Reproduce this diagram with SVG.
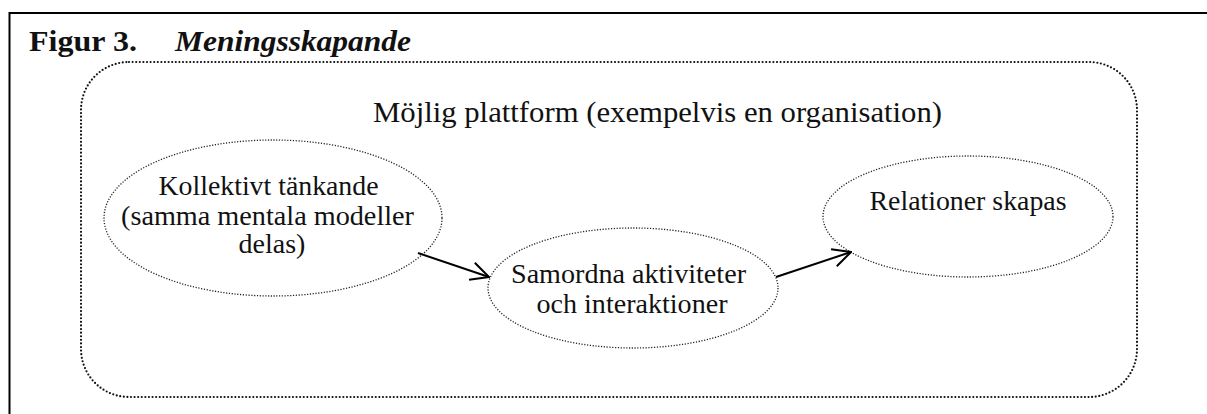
<svg xmlns="http://www.w3.org/2000/svg" width="1207" height="414" viewBox="0 0 1207 414">
<defs>
<style>
.t{font-family:'Liberation Serif','Times New Roman',serif;fill:#111;}
.node{fill:none;stroke:#222;stroke-width:1.3;stroke-dasharray:1.2 1.6;}
.plat{fill:none;stroke:#111;stroke-width:2.2;stroke-linecap:round;stroke-dasharray:0 3.6;}
.conn{fill:none;stroke:#000;stroke-width:2;}
</style>
<marker id="arr" viewBox="0 0 20 20" refX="19" refY="10" markerWidth="20" markerHeight="20" markerUnits="userSpaceOnUse" orient="auto">
<path d="M1,1 L19,10 L1,19" fill="none" stroke="#000" stroke-width="2"/>
</marker>
</defs>
<rect width="1207" height="414" fill="#fff"/>
<g id="frame">
<path d="M9.5,414 V13 H1207" fill="none" stroke="#000" stroke-width="2"/>
<text class="t" x="29" y="51" font-size="29" font-weight="bold" textLength="108" lengthAdjust="spacingAndGlyphs">Figur 3.</text>
<text class="t" x="175" y="51" font-size="29" font-style="italic" font-weight="bold" textLength="236" lengthAdjust="spacingAndGlyphs">Meningsskapande</text>
</g>
<g id="platform">
<rect class="plat" x="81" y="62" width="1056" height="335" rx="48" ry="48"/>
<text class="t" x="657.5" y="122" font-size="30" text-anchor="middle" textLength="569" lengthAdjust="spacingAndGlyphs">Möjlig plattform (exempelvis en organisation)</text>
</g>
<g id="node-kollektivt">
<ellipse class="node" cx="273" cy="218" rx="169" ry="78"/>
<text class="t" font-size="28" text-anchor="middle">
<tspan x="272" y="195" textLength="220" lengthAdjust="spacingAndGlyphs">Kollektivt tänkande</tspan>
<tspan x="271" y="225" textLength="293" lengthAdjust="spacingAndGlyphs">(samma mentala modeller</tspan>
<tspan x="272" y="253">delas)</tspan>
</text>
</g>
<g id="node-samordna">
<ellipse class="node" cx="633" cy="288" rx="145" ry="60"/>
<text class="t" font-size="28" text-anchor="middle">
<tspan x="632" y="283" textLength="235" lengthAdjust="spacingAndGlyphs">Samordna aktiviteter</tspan>
<tspan x="632" y="313" textLength="191" lengthAdjust="spacingAndGlyphs">och interaktioner</tspan>
</text>
</g>
<g id="node-relationer">
<ellipse class="node" cx="968" cy="216.5" rx="145" ry="60.5"/>
<text class="t" x="968" y="210" font-size="28" text-anchor="middle" textLength="197" lengthAdjust="spacingAndGlyphs">Relationer skapas</text>
</g>
<g id="connectors">
<line class="conn" x1="418" y1="253" x2="489" y2="277" marker-end="url(#arr)"/>
<line class="conn" x1="776" y1="277" x2="851" y2="252" marker-end="url(#arr)"/>
</g>
</svg>
